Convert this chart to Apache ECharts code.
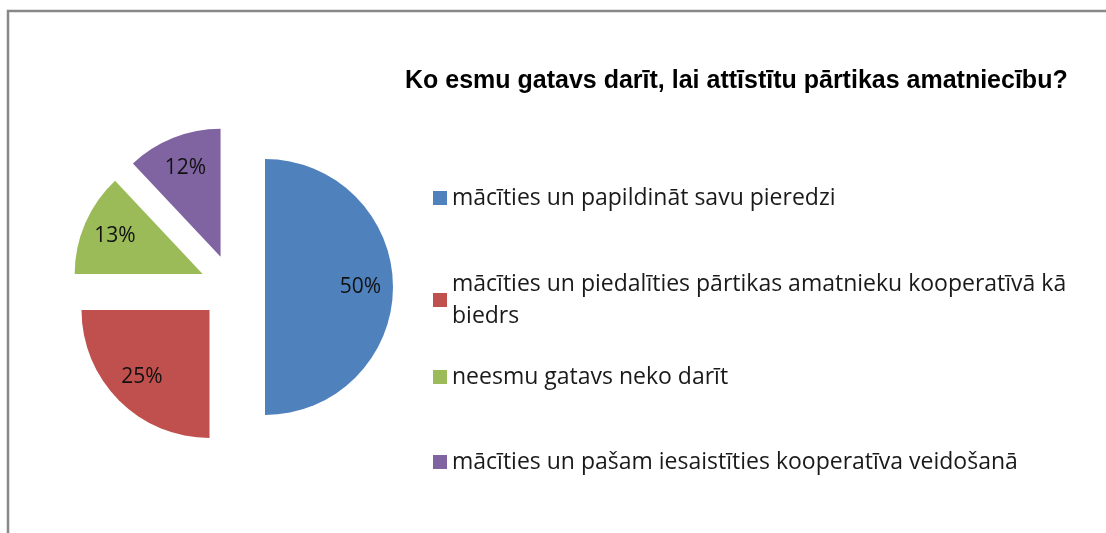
<!DOCTYPE html>
<html>
<head>
<meta charset="utf-8">
<script src="https://cdn.jsdelivr.net/npm/echarts@6/dist/echarts.min.js"></script>
<style>
  html, body { margin: 0; padding: 0; background: #fff; }
  #chart { width: 1106px; height: 533px; }
</style>
</head>
<body>
<div id="chart"></div>
<script>
const titleText = 'Ko esmu gatavs darīt, lai attīstītu pārtikas amatniecību?';
const categories = [
  'mācīties un papildināt savu pieredzi',
  'mācīties un piedalīties pārtikas amatnieku kooperatīvā kā biedrs',
  'neesmu gatavs neko darīt',
  'mācīties un pašam iesaistīties kooperatīva veidošanā'
];
const percents = [50, 25, 13, 12];
const colors = ['#4F81BD', '#C0504D', '#9BBB59', '#8064A2'];

const legendTops = [182, 268, 361, 446];

const chart = echarts.init(document.getElementById('chart'));

const pieData = categories.map((name, i) => ({
  name: name,
  value: percents[i],
  selected: true,
  itemStyle: { color: colors[i] }
}));

const labelData = categories.map((name, i) => ({
  name: name,
  value: percents[i],
  selected: true
}));

const textFont = "'Open Sans', 'Noto Sans', sans-serif";

const option = {
  animation: false,
  title: {
    text: titleText,
    left: 405,
    top: 69,
    padding: 0,
    textStyle: {
      fontFamily: "'Liberation Sans Narrow', 'Liberation Sans', Arial, sans-serif",
      fontWeight: 'bold',
      fontSize: 25,
      color: '#000'
    }
  },
  legend: categories.map((name, i) => ({
    data: [name],
    orient: 'vertical',
    left: 433,
    top: legendTops[i],
    padding: 0,
    itemWidth: 14,
    itemHeight: 14,
    selectedMode: false,
    icon: 'rect',
    formatter: n => n.replace(' biedrs', '\nbiedrs'),
    textStyle: {
      fontFamily: textFont,
      fontSize: 23,
      lineHeight: 32,
      color: '#1a1a1a'
    }
  })),
  graphic: [{
    type: 'polyline',
    shape: { points: [[8, 533], [8, 11], [1106, 11]] },
    style: { stroke: '#888', lineWidth: 2.5, fill: null },
    silent: true
  }],
  series: [
    {
      type: 'pie',
      center: [232.5, 287],
      radius: 128,
      startAngle: 90,
      clockwise: true,
      selectedMode: 'multiple',
      selectedOffset: 32.5,
      avoidLabelOverlap: false,
      label: { show: false },
      labelLine: { show: false },
      emphasis: { disabled: true },
      silent: true,
      data: pieData
    },
    {
      type: 'pie',
      center: [232.5, 287],
      radius: 185,
      startAngle: 90,
      clockwise: true,
      selectedMode: 'multiple',
      selectedOffset: 32.5,
      avoidLabelOverlap: false,
      itemStyle: { color: 'rgba(0,0,0,0)' },
      label: {
        show: true,
        position: 'inside',
        formatter: '{c}%',
        fontFamily: textFont,
        fontSize: 21,
        color: '#111'
      },
      labelLine: { show: false },
      emphasis: { disabled: true },
      silent: true,
      legendHoverLink: false,
      data: labelData
    }
  ]
};

chart.setOption(option);
</script>
</body>
</html>
